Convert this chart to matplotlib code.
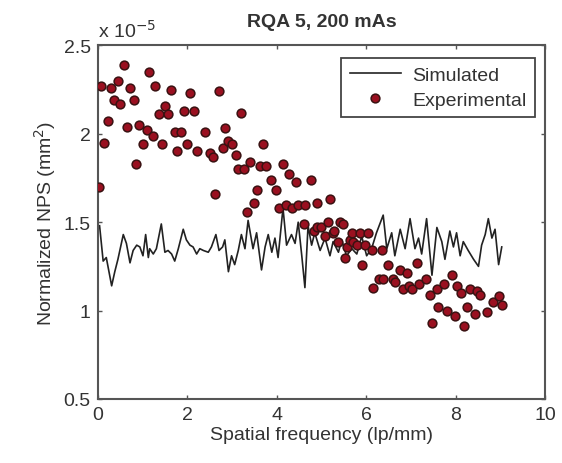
import matplotlib
matplotlib.use("Agg")
import matplotlib.pyplot as plt

plt.rcParams["font.family"] = ["Liberation Sans", "DejaVu Sans"]

# NPS values in units of 1e-5 mm^2
sim_freq = [0.04, 0.12, 0.19, 0.31, 0.38, 0.45, 0.57, 0.64, 0.72, 0.79, 0.87, 0.94,
            1.01, 1.07, 1.13, 1.16, 1.24, 1.31, 1.42, 1.50, 1.57, 1.65, 1.72, 1.80,
            1.91, 1.98, 2.06, 2.13, 2.21, 2.28, 2.36, 2.47, 2.54, 2.64, 2.71, 2.79,
            2.84, 2.92, 2.99, 3.06, 3.14, 3.21, 3.29, 3.36, 3.47, 3.55, 3.66, 3.74,
            3.81, 3.89, 3.96, 4.03, 4.14, 4.22, 4.33, 4.41, 4.48, 4.56, 4.63, 4.70,
            4.78, 4.85, 4.97, 5.08, 5.19, 5.26, 5.38, 5.45, 5.56, 5.68, 5.79, 5.90,
            6.01, 6.12, 6.23, 6.38, 6.46, 6.57, 6.64, 6.76, 6.87, 6.98, 7.09, 7.17,
            7.24, 7.35, 7.47, 7.58, 7.69, 7.76, 7.87, 7.95, 8.02, 8.10, 8.17, 8.28,
            8.40, 8.51, 8.58, 8.66, 8.73, 8.81, 8.88, 8.96, 9.03]
sim_nps = [1.48, 1.28, 1.30, 1.14, 1.22, 1.29, 1.43, 1.38, 1.27, 1.34, 1.37, 1.36,
           1.31, 1.43, 1.30, 1.35, 1.32, 1.35, 1.49, 1.33, 1.34, 1.32, 1.28, 1.35,
           1.46, 1.40, 1.37, 1.36, 1.32, 1.35, 1.34, 1.33, 1.36, 1.43, 1.34, 1.36,
           1.40, 1.22, 1.31, 1.26, 1.34, 1.43, 1.35, 1.51, 1.35, 1.44, 1.23, 1.36,
           1.43, 1.33, 1.41, 1.30, 1.58, 1.37, 1.43, 1.38, 1.50, 1.31, 1.13, 1.48,
           1.37, 1.44, 1.34, 1.41, 1.31, 1.39, 1.33, 1.40, 1.31, 1.35, 1.32, 1.42,
           1.31, 1.35, 1.44, 1.54, 1.35, 1.44, 1.31, 1.46, 1.35, 1.52, 1.35, 1.41,
           1.32, 1.52, 1.20, 1.47, 1.39, 1.29, 1.45, 1.36, 1.44, 1.31, 1.39, 1.34,
           1.29, 1.25, 1.37, 1.43, 1.52, 1.41, 1.46, 1.26, 1.36]

exp_freq = [0.02, 0.07, 0.15, 0.22, 0.30, 0.36, 0.45, 0.50, 0.58, 0.66, 0.72, 0.81,
            0.86, 0.93, 1.01, 1.10, 1.14, 1.23, 1.29, 1.36, 1.43, 1.51, 1.58, 1.64,
            1.73, 1.77, 1.86, 1.92, 2.00, 2.07, 2.15, 2.22, 2.39, 2.50, 2.57, 2.61,
            2.70, 2.79, 2.84, 2.91, 2.99, 3.08, 3.14, 3.21, 3.27, 3.34, 3.40, 3.49,
            3.55, 3.62, 3.70, 3.77, 3.87, 3.98, 4.06, 4.13, 4.20, 4.27, 4.35, 4.42,
            4.48, 4.62, 4.63, 4.77, 4.84, 4.89, 4.91, 5.00, 5.08, 5.14, 5.19, 5.26,
            5.29, 5.36, 5.41, 5.49, 5.53, 5.56, 5.64, 5.68, 5.71, 5.79, 5.86, 5.90,
            5.97, 6.05, 6.12, 6.16, 6.29, 6.35, 6.37, 6.48, 6.59, 6.64, 6.76, 6.82,
            6.91, 6.96, 7.02, 7.13, 7.17, 7.34, 7.42, 7.46, 7.58, 7.61, 7.74, 7.80,
            7.91, 7.99, 8.04, 8.11, 8.19, 8.25, 8.31, 8.43, 8.47, 8.55, 8.70, 8.84,
            8.96, 9.03]
exp_nps = [1.70, 2.27, 1.95, 2.07, 2.26, 2.19, 2.30, 2.17, 2.39, 2.04, 2.26, 2.19,
           1.83, 2.05, 1.94, 2.02, 2.35, 1.99, 2.27, 2.11, 1.94, 2.16, 2.11, 2.25,
           2.01, 1.90, 2.01, 2.13, 1.94, 2.23, 2.13, 1.90, 2.01, 1.89, 1.87, 1.66,
           2.24, 1.92, 2.03, 1.96, 1.94, 1.88, 1.80, 2.12, 1.80, 1.56, 1.84, 1.61,
           1.68, 1.82, 1.94, 1.82, 1.74, 1.68, 1.58, 1.83, 1.60, 1.77, 1.58, 1.73,
           1.60, 1.49, 1.60, 1.74, 1.45, 1.47, 1.61, 1.47, 1.42, 1.50, 1.63, 1.44,
           1.45, 1.39, 1.50, 1.49, 1.30, 1.36, 1.40, 1.44, 1.39, 1.37, 1.44, 1.26,
           1.37, 1.44, 1.34, 1.13, 1.18, 1.34, 1.18, 1.26, 1.18, 1.16, 1.23, 1.12,
           1.21, 1.14, 1.12, 1.27, 1.15, 1.18, 1.09, 0.93, 1.12, 1.02, 1.15, 1.00,
           1.20, 0.97, 1.14, 1.10, 0.91, 1.02, 1.12, 0.98, 1.11, 1.09, 0.99, 1.05,
           1.08, 1.03]

x_ticks = [0, 2, 4, 6, 8, 10]
y_ticks = [0.5, 1, 1.5, 2, 2.5]
y_tick_labels = ["0.5", "1", "1.5", "2", "2.5"]

TXT = "#333333"
AX = "#555555"

fig = plt.figure(figsize=(5.62, 4.64), dpi=100)
ax = fig.add_axes([0.174, 0.138, 0.796, 0.762])

ax.plot(sim_freq, sim_nps, color="#222222", lw=1.2, label="Simulated", zorder=2)
ax.plot(exp_freq, exp_nps, ls="none", marker="o", ms=6.3, mfc="#9a1020",
        mec="#3a1212", mew=1.1, label="Experimental", zorder=3)

ax.set_xlim(0, 10)
ax.set_ylim(0.5, 2.5)
ax.set_xticks(x_ticks)
ax.set_yticks(y_ticks)
ax.set_yticklabels(y_tick_labels)
ax.tick_params(direction="in", length=3, width=1, top=True, right=True,
               labelsize=14, labelcolor=TXT, color=AX, pad=5)
for s in ax.spines.values():
    s.set_color(AX)
    s.set_linewidth(1.5)

ax.set_xlabel("Spatial frequency (lp/mm)", fontsize=14, color=TXT, labelpad=2)
ax.set_ylabel("Normalized NPS (mm$^2$)", fontsize=14, color=TXT, labelpad=4)
ax.set_title("RQA 5, 200 mAs", fontsize=14, weight="bold", color=TXT, pad=14)
ax.text(0.0, 1.012, "x 10$^{-5}$", transform=ax.transAxes, fontsize=14,
        color=TXT, ha="left", va="bottom")

leg = ax.legend(loc="upper right", bbox_to_anchor=(0.978, 0.965), borderaxespad=0,
                fontsize=14, fancybox=False, edgecolor="#444444", framealpha=1,
                handlelength=2.6, borderpad=0.45, labelspacing=0.35,
                handletextpad=0.6)
leg.get_frame().set_linewidth(1.3)
for t in leg.get_texts():
    t.set_color(TXT)

fig.savefig("out.png", dpi=100)
